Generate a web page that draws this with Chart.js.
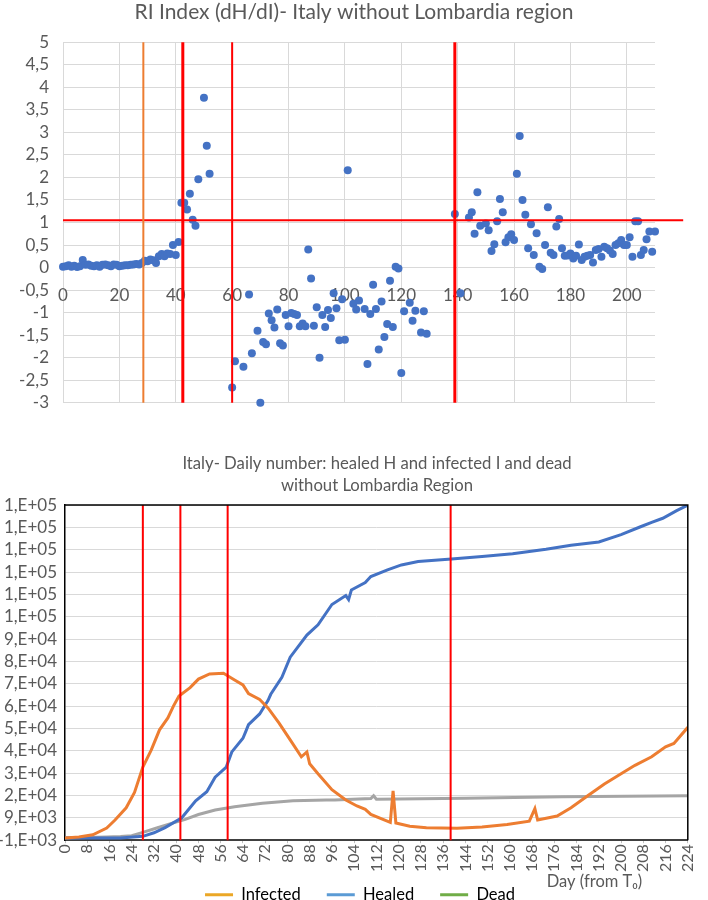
<!DOCTYPE html>
<html>
<head>
<meta charset="utf-8">
<script src="https://cdn.jsdelivr.net/npm/chart.js@4.4.1/dist/chart.umd.min.js"></script>
<style>
  body { margin: 0; background: #fff; width: 708px; height: 900px; position: relative; overflow: hidden; }
  canvas { position: absolute; left: 0; }
  #ri { top: 0; }
  #daily { top: 420px; }
</style>
</head>
<body>
<canvas id="ri" width="708" height="427"></canvas>
<canvas id="daily" width="708" height="480"></canvas>
<script>
// ---- top chart: RI index scatter ----
const riDays = [
  0, 1, 2, 3, 4, 5, 6, 7, 8, 9, 10, 11, 12, 13, 14, 15, 16, 17, 18, 19, 20, 21, 22, 23, 24, 25, 26, 27, 28,
  29, 30, 31, 32, 33, 34, 35, 36, 37, 38, 39, 40, 41, 42, 43, 44, 45, 46, 47, 48, 50, 51, 52,
  60, 61, 64, 66, 67, 69, 70, 71, 72, 73, 74, 75, 76, 77, 78, 79, 80, 81, 82, 83, 84, 85, 86, 87, 88, 89,
  90, 91, 92, 93, 94, 95, 96, 97, 98, 99, 100, 101, 103, 104, 105, 107, 108, 109, 110, 111, 112, 113, 114,
  115, 116, 117, 118, 119, 120, 121, 123, 124, 125, 127, 128, 129,
  139, 141, 144, 145, 146, 147, 148, 150, 151, 152, 153, 154, 155, 156, 157, 158, 159, 160, 161, 162, 163,
  164, 165, 166, 167, 168, 169, 170, 171, 172, 173, 174, 175, 176, 177, 178, 179, 180, 181, 182, 183, 184,
  185, 186, 187, 188, 189, 190, 191, 192, 193, 194, 195, 196, 197, 198, 199, 200, 201, 202, 203, 204, 205,
  206, 207, 208, 209, 210
];
const riValues = [
  0.02, 0.03, 0.05, 0.02, 0.04, 0.01, 0.03, 0.17, 0.06, 0.07, 0.04, 0.03, 0.05, 0.02, 0.06, 0.07, 0.05, 0.03, 0.07, 0.06, 0.03, 0.04, 0.05, 0.05, 0.06, 0.07, 0.08, 0.07, 0.1,
  0.15, 0.14, 0.18, 0.16, 0.1, 0.25, 0.3, 0.25, 0.31, 0.3, 0.5, 0.28, 0.57, 1.44, 1.44, 1.29, 1.64, 1.06, 0.93, 1.96, 3.77, 2.7, 2.08,
  -2.66, -2.08, -2.2, -0.6, -1.9, -1.4, -3.0, -1.65, -1.7, -1.02, -1.17, -1.33, -0.93, -1.68, -1.73, -1.05, -1.3, -1.01, -1.03, -1.05, -1.3, -1.24, -1.3, 0.4, -0.24, -1.29,
  -0.88, -2.0, -1.05, -1.32, -0.94, -1.12, -0.57, -0.9, -1.61, -0.7, -1.6, 2.16, -0.8, -0.93, -0.73, -0.92, -2.14, -1.03, -0.38, -0.92, -1.82, -0.75, -1.54,
  -1.25, -0.29, -1.32, 0.02, -0.02, -2.34, -0.97, -0.78, -1.18, -0.96, -1.44, -0.97, -1.47,
  1.19, -0.57, 1.11, 1.23, 0.75, 1.67, 0.93, 0.98, 0.83, 0.37, 0.52, 1.03, 1.52, 1.23, 0.56, 0.67, 0.74, 0.61, 2.08, 2.92, 1.5,
  1.17, 0.43, 0.96, 0.28, 0.76, 0.02, -0.03, 0.5, 1.34, 0.33, 0.28, 0.91, 1.08, 0.43, 0.26, 0.27, 0.31, 0.2, 0.26, 0.51, 0.17,
  0.24, 0.26, 0.28, 0.11, 0.39, 0.41, 0.24, 0.46, 0.43, 0.38, 0.3, 0.5, 0.54, 0.61, 0.5, 0.5, 0.67, 0.24, 1.03, 1.03, 0.28,
  0.39, 0.63, 0.8, 0.35, 0.8
];
const riThreshold = 1.05;
const riOrangeDay = 28.5;
const riRedDays = [42.5, 60, 139];
const riRedWidths = [3, 2, 3];

// ---- bottom chart: daily numbers ----
const infectedDays = [0, 5, 10, 15, 18, 22, 25, 28, 31, 34, 37, 39, 41, 45, 48, 52, 57, 61, 64, 66, 70, 73, 77, 81, 85, 87, 88, 91, 96, 101, 105, 108, 110, 117, 118, 119, 124, 130, 141, 150, 159, 167, 169, 170, 177, 182, 188, 194, 200, 205, 211, 216, 219, 224];
const infectedValues = [0, 400, 1400, 4400, 8000, 13500, 20400, 31700, 39300, 48400, 53700, 59000, 63500, 67300, 71100, 73400, 73700, 70700, 68500, 64600, 62000, 58200, 51400, 43900, 36300, 38500, 33200, 28700, 21600, 17000, 14300, 12800, 10500, 7000, 21100, 6700, 5200, 4600, 4300, 4900, 6000, 7500, 13100, 8000, 9800, 13500, 18900, 24100, 28700, 32500, 36300, 40800, 42300, 49500];
const healedDays = [0, 20, 28, 32, 36, 42, 47, 51, 54, 58, 60, 64, 65, 66, 70, 73, 74, 78, 81, 87, 91, 96, 101, 102, 103, 108, 110, 116, 121, 127, 139, 150, 161, 173, 182, 192, 200, 207, 211, 215, 220, 224];
const healedValues = [0, 0, 700, 2300, 4600, 9000, 16600, 20700, 27200, 31700, 38500, 44600, 47600, 50700, 55500, 61500, 64300, 71900, 80900, 90800, 95400, 104500, 108500, 106700, 111000, 114300, 117000, 120000, 122200, 123700, 124900, 126000, 127200, 129200, 131000, 132500, 135800, 139300, 141300, 143100, 146500, 149000];
const deadDays = [0, 15, 20, 24, 28, 33, 38, 43, 48, 54, 61, 71, 82, 94, 97, 110, 111, 112, 144, 179, 224];
const deadValues = [0, 360, 600, 950, 2500, 4450, 6400, 8200, 10500, 12500, 14000, 15500, 16600, 17000, 17000, 17600, 18900, 17300, 17800, 18400, 18900];
const dailyRedDays = [28, 41.5, 58.5, 138.7];
const seriesNames = ['Infected', 'Healed', 'Dead'];
const seriesColors = ['#ED7D31', '#4472C4', '#A5A5A5'];
const legendColors = ['#EBA726', '#5B9BD5', '#70AD47'];

Chart.defaults.font.family = 'Lato, "Open Sans", sans-serif';
Chart.defaults.color = '#595959';

const toXY = (xs, ys) => xs.map((x, i) => ({ x: x, y: ys[i] }));
const commaNum = v => String(v).replace('.', ',');

// Excel "0,E+00" style
function sciLabel(v) {
  if (v === 0) return '0,E+00';
  let exp = Math.floor(Math.log10(Math.abs(v)));
  let m = Math.round(v / Math.pow(10, exp));
  if (Math.abs(m) >= 10) { m = m / 10; exp++; }
  return m + ',E' + (exp < 0 ? '-' : '+') + String(Math.abs(exp)).padStart(2, '0');
}

function vLine(day, yMin, yMax, color, width) {
  return {
    data: [{ x: day, y: yMin }, { x: day, y: yMax }],
    showLine: true, borderColor: color, borderWidth: width,
    pointRadius: 0, fill: false, clip: false
  };
}

// blank axis used only to reserve room on the right side of a plot
function spacerAxis(width) {
  return {
    position: 'right',
    afterFit: s => { s.width = width; },
    ticks: { display: false },
    grid: { display: false },
    border: { display: false }
  };
}

const riDatasets = [vLine(riOrangeDay, -3, 5, '#ED7D31', 2)];
riRedDays.forEach((d, i) => riDatasets.push(vLine(d, -3, 5, '#FF0000', riRedWidths[i])));
riDatasets.push({
  data: [{ x: 0, y: riThreshold }, { x: 220, y: riThreshold }],
  showLine: true, borderColor: '#FF0000', borderWidth: 2, pointRadius: 0, clip: false
});
riDatasets.push({
  data: toXY(riDays, riValues),
  backgroundColor: '#4472C4', borderWidth: 0, pointRadius: 4, clip: false
});

new Chart(document.getElementById('ri'), {
  type: 'scatter',
  data: { datasets: riDatasets },
  options: {
    responsive: false,
    animation: false,
    devicePixelRatio: 1,
    layout: { padding: { left: 0, right: 0, top: 0, bottom: 4 } },
    plugins: {
      legend: { display: false },
      tooltip: { enabled: false },
      title: {
        display: true,
        text: 'RI Index (dH/dI)- Italy without Lombardia region',
        font: { size: 21, weight: 'normal' },
        color: '#595959',
        padding: { top: 0, bottom: 17 }
      }
    },
    scales: {
      x: {
        type: 'linear', min: 0, max: 210,
        position: { y: 0 },
        afterFit: s => { s.height = 0; },
        ticks: {
          stepSize: 20, includeBounds: false, padding: 18,
          font: { size: 17 }, color: '#595959', maxRotation: 0,
          callback: v => (v % 20 === 0 ? v : null)
        },
        grid: { color: '#D9D9D9', drawTicks: false },
        border: { display: false }
      },
      y: {
        min: -3, max: 5,
        afterFit: s => { s.width = 63; },
        ticks: { stepSize: 0.5, padding: 14, font: { size: 17 }, color: '#595959', callback: commaNum, autoSkip: false },
        grid: { color: '#D9D9D9', drawTicks: false },
        border: { display: false }
      },
      yRight: spacerAxis(53)
    }
  }
});

// frame on top and right of the plot
const plotFrame = {
  id: 'plotFrame',
  afterDatasetsDraw(chart) {
    const { ctx, chartArea: a } = chart;
    ctx.save();
    ctx.strokeStyle = '#000';
    ctx.lineWidth = 1.5;
    ctx.beginPath();
    ctx.moveTo(a.left, a.top);
    ctx.lineTo(a.right, a.top);
    ctx.lineTo(a.right, a.bottom);
    ctx.stroke();
    ctx.restore();
  }
};

// legend shares the band of the axis title: it is laid out below the canvas, then moved up
const legendShift = {
  id: 'legendShift',
  afterLayout(chart) {
    const lg = chart.legend;
    lg.top -= 33; lg.bottom -= 33;
    lg.left -= 17; lg.right -= 17;
  }
};

const dailyDatasets = dailyRedDays.map(d => vLine(d, -1000, 149000, '#FF0000', 2));
[[infectedDays, infectedValues], [healedDays, healedValues], [deadDays, deadValues]].forEach((s, i) => {
  dailyDatasets.push({
    label: seriesNames[i],
    data: toXY(s[0], s[1]),
    borderColor: seriesColors[i], backgroundColor: seriesColors[i],
    borderWidth: 3, pointRadius: 0, fill: false, tension: 0
  });
});

new Chart(document.getElementById('daily'), {
  type: 'line',
  data: { datasets: dailyDatasets },
  plugins: [plotFrame, legendShift],
  options: {
    responsive: false,
    animation: false,
    devicePixelRatio: 1,
    layout: { padding: { left: 0, right: -46, top: 0, bottom: -46 } },
    plugins: {
      tooltip: { enabled: false },
      title: {
        display: true,
        text: ['Italy- Daily number: healed H and infected I and dead', 'without Lombardia Region'],
        font: { size: 16.7, weight: 'normal', lineHeight: 1.32 },
        color: '#595959',
        padding: { top: 33, bottom: 8 }
      },
      legend: {
        position: 'bottom',
        labels: {
          boxWidth: 28, boxHeight: 3, padding: 26,
          font: { size: 16.5 }, color: '#595959',
          generateLabels: () => seriesNames.map((name, i) => ({
            text: name, fillStyle: legendColors[i], strokeStyle: legendColors[i],
            lineWidth: 0, hidden: false, datasetIndex: dailyRedDays.length + i
          }))
        }
      }
    },
    scales: {
      x: {
        type: 'linear', min: 0, max: 224,
        ticks: { stepSize: 8, minRotation: 90, maxRotation: 90, autoSkip: false, padding: 1, font: { size: 16 }, color: '#595959' },
        grid: { drawOnChartArea: false, tickLength: 3, color: '#BFBFBF' },
        border: { color: '#404040', width: 2 },
        title: {
          display: true, text: 'Day (from T\u2080)\u2003\u2003\u2003\u00a0\u00a0', align: 'end',
          font: { size: 16.5, lineHeight: 1 }, color: '#595959', padding: { top: 0, bottom: 4 }
        }
      },
      y: {
        min: -1000, max: 149000,
        afterFit: s => { s.width = 65; },
        ticks: { stepSize: 10000, padding: 8, font: { size: 17 }, color: '#595959', callback: sciLabel, autoSkip: false },
        grid: { color: '#D9D9D9', drawTicks: false },
        border: { color: '#000', width: 1.5 }
      },
      yRight: spacerAxis(53)
    }
  }
});
</script>
</body>
</html>
